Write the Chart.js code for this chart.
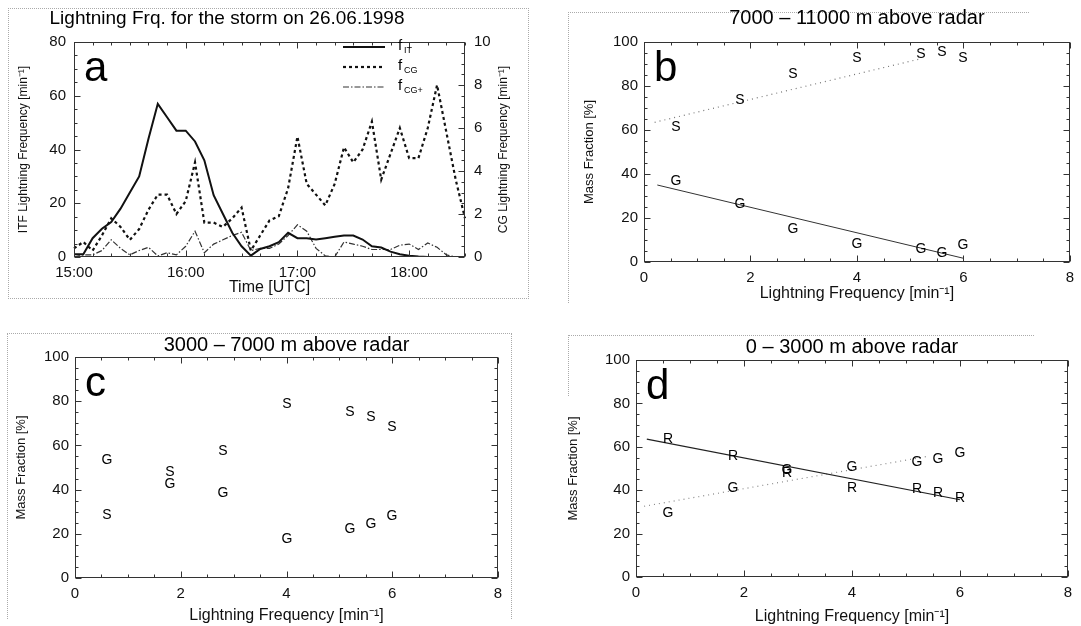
<!DOCTYPE html>
<html>
<head>
<meta charset="utf-8">
<script src="https://cdn.jsdelivr.net/npm/chart.js@4.4.0/dist/chart.umd.min.js"></script>
<style>
body { margin:0; background:#fff; width:1081px; height:626px; position:relative; overflow:hidden; font-family:"Liberation Sans", Arial, sans-serif; }
canvas { position:absolute; }
.box { position:absolute; border:0 dotted #aaa; }
</style>
</head>
<body>
<div class="box" style="left:8px;top:8px;width:519px;height:289px;border-width:1px"></div>
<div class="box" style="left:568px;top:12px;width:460px;height:290px;border-top-width:1px;border-left-width:1px"></div>
<div class="box" style="left:7px;top:333px;width:503px;height:285px;border-top-width:1px;border-left-width:1px;border-right-width:1px"></div>
<div class="box" style="left:568px;top:335px;width:465px;height:60px;border-top-width:1px;border-left-width:1px"></div>

<canvas id="ca" width="540" height="305" style="left:0;top:0"></canvas>
<canvas id="cb" width="541" height="305" style="left:540px;top:0"></canvas>
<canvas id="cc" width="540" height="316" style="left:0;top:310px"></canvas>
<canvas id="cd" width="541" height="316" style="left:540px;top:310px"></canvas>

<script>
// panel a: lightning frequency time series (5 min steps)
var times = ['15:00','15:05','15:10','15:15','15:20','15:25','15:30','15:35','15:40','15:45','15:50','15:55',
             '16:00','16:05','16:10','16:15','16:20','16:25','16:30','16:35','16:40','16:45','16:50','16:55',
             '17:00','17:05','17:10','17:15','17:20','17:25','17:30','17:35','17:40','17:45','17:50','17:55',
             '18:00','18:05','18:10','18:15','18:20','18:25','18:30'];
var fIT  = [1,1,7,10.5,13,18,24,30,44,57,52,47,47,43,36,23,16,9,4,0.5,3,4,5.5,9,
            7,7,6.5,7,7.5,8,8,6.5,4,3.5,2,1,0.5,0.2,0,0,0,0,null];
var fCG  = [0.4,0.7,0.3,1.0,1.8,1.4,0.8,1.3,2.2,2.9,2.9,2.0,2.6,4.4,1.6,1.6,1.4,1.8,2.3,0.3,1.0,1.7,1.9,3.2,
            5.6,3.4,2.9,2.4,3.4,5.1,4.4,5.0,6.3,3.6,4.8,6.0,4.6,4.6,6.0,8.0,5.8,3.6,1.8];
var fCGp = [0,0.1,0.1,0.3,0.8,0.4,0.1,0.3,0.45,0.05,0.2,0.1,0.5,1.2,0.2,0.6,0.8,1.0,1.15,0.3,0.4,0.4,0.6,1.0,
            1.5,1.2,0.4,0.05,0,0.7,0.6,0.5,0.35,0.35,0.35,0.55,0.6,0.35,0.65,0.45,0.1,0,null];

// panels b-d: mass fractions vs lightning frequency
var freq = [0.6, 1.8, 2.8, 4.0, 5.2, 5.6, 6.0];
var bS = [62, 74, 86, 93, 95, 96, 93];
var bG = [37.5, 27, 15.5, 8.5, 6.5, 4.5, 8];
var cS = [29, 48.5, 58, 79, 75.5, 73.5, 69];
var cG = [54, 43, 39, 18, 22.5, 25, 28.5];
var dR = [64, 56, 48.5, 41.5, 41, 39, 37];
var dG = [30, 41.5, 50, 51, 53.5, 55, 57.5];

// fitted lines (start / end)
var bSfitX = [0.2, 5.2], bSfitY = [63.5, 92.4];
var bGfitX = [0.25, 6.0], bGfitY = [35, 1.7];
var dRfitX = [0.2, 6.0], dRfitY = [63.5, 35.6];
var dGfitX = [0.15, 5.4], dGfitY = [32.6, 55.6];

var FONT = '"Liberation Sans", Arial, sans-serif';

function pts(xs, ys) {
  var out = [];
  for (var i = 0; i < xs.length; i++) out.push({x: xs[i], y: ys[i]});
  return out;
}

// letters S / G / R as point markers, placed at the points the scales computed
var letters = {
  id: 'letters',
  afterDatasetsDraw: function(chart) {
    var ctx = chart.ctx;
    ctx.save();
    ctx.font = '14px ' + FONT;
    ctx.fillStyle = '#000';
    ctx.textAlign = 'center';
    ctx.textBaseline = 'middle';
    chart.data.datasets.forEach(function(ds, i) {
      if (!ds.letter) return;
      chart.getDatasetMeta(i).data.forEach(function(el) {
        ctx.fillText(ds.letter, Math.round(el.x), Math.round(el.y) + 1);
      });
    });
    ctx.restore();
  }
};

// box round the plot with inward ticks
var frame = {
  id: 'frame',
  afterDraw: function(chart, args, o) {
    var ctx = chart.ctx, a = chart.chartArea;
    var L = Math.round(a.left) + 0.5, R = Math.round(a.right) - 0.5;
    var T = Math.round(a.top) + 0.5, B = Math.round(a.bottom) - 0.5;
    ctx.save();
    ctx.strokeStyle = '#333';
    ctx.lineWidth = 1;
    ctx.strokeRect(L, T, R - L, B - T);
    function seg(x1, y1, x2, y2) { ctx.beginPath(); ctx.moveTo(x1, y1); ctx.lineTo(x2, y2); ctx.stroke(); }
    var xs = chart.scales.x;
    for (var v = xs.min; v <= xs.max + 1e-9; v += o.xMinor) {
      var p = Math.round(xs.getPixelForValue(v)) + 0.5;
      var len = Math.abs(v / o.xMajor - Math.round(v / o.xMajor)) < 1e-6 ? 6 : 3;
      seg(p, B, p, B - len); seg(p, T, p, T + len);
    }
    function yTicks(sc, major, minor, left) {
      for (var v = sc.min; v <= sc.max + 1e-9; v += minor) {
        var p = Math.round(sc.getPixelForValue(v)) + 0.5;
        var len = Math.abs(v / major - Math.round(v / major)) < 1e-6 ? 6 : 3;
        if (left) seg(L, p, L + len, p); else seg(R, p, R - len, p);
      }
    }
    yTicks(chart.scales.y, o.yMajor, o.yMinor, true);
    if (chart.scales.y1) yTicks(chart.scales.y1, o.y1Major, o.y1Minor, false);
    else yTicks(chart.scales.y, o.yMajor, o.yMinor, false);
    ctx.restore();
  }
};

// title, panel letter, right axis title and (panel a) legend
var deco = {
  id: 'deco',
  afterDraw: function(chart, args, o) {
    var ctx = chart.ctx, a = chart.chartArea;
    ctx.save();
    ctx.fillStyle = '#000';
    ctx.font = o.titleSize + 'px ' + FONT;
    ctx.textAlign = 'center';
    ctx.textBaseline = 'middle';
    ctx.fillText(o.title, o.titleX != null ? o.titleX : (a.left + a.right) / 2, o.titleY);
    if (o.rightTitle) {
      ctx.save();
      ctx.translate(o.rightTitleX, (a.top + a.bottom) / 2);
      ctx.rotate(-Math.PI / 2);
      ctx.font = '12px ' + FONT;
      ctx.fillStyle = '#111';
      ctx.fillText(o.rightTitle, 0, 0);
      ctx.restore();
    }
    ctx.font = '42px ' + FONT;
    ctx.textAlign = 'left';
    ctx.textBaseline = 'alphabetic';
    ctx.fillText(o.letter, a.left + 10, a.top + 39);
    if (o.legend) {
      var ds = chart.data.datasets;
      o.legend.forEach(function(sub, i) {
        var y = a.top + 5 + i * 20;
        var x0 = a.right - 122;
        ctx.strokeStyle = ds[i].borderColor;
        ctx.lineWidth = ds[i].borderWidth;
        ctx.setLineDash(ds[i].borderDash || []);
        ctx.beginPath(); ctx.moveTo(x0, y); ctx.lineTo(x0 + 42, y); ctx.stroke();
        ctx.setLineDash([]);
        ctx.textBaseline = 'middle';
        ctx.font = '15px ' + FONT;
        ctx.fillText('f', x0 + 55, y - 1);
        ctx.font = '9px ' + FONT;
        ctx.fillText(sub, x0 + 61, y + 4);
      });
    }
    ctx.restore();
  }
};

function fixW(w) { return function(s) { s.width = w; }; }
function fixH(h) { return function(s) { s.height = h; }; }

function tickFont() { return {size: 15, family: FONT}; }

// ---- panel a ----
new Chart(document.getElementById('ca'), {
  type: 'line',
  data: {
    labels: times,
    datasets: [
      {label: 'fIT', data: fIT, yAxisID: 'y', borderColor: '#111', borderWidth: 2, pointRadius: 0, tension: 0},
      {label: 'fCG', data: fCG, yAxisID: 'y1', borderColor: '#111', borderWidth: 2.2, borderDash: [3, 3], pointRadius: 0, tension: 0},
      {label: 'fCG+', data: fCGp, yAxisID: 'y1', borderColor: '#333', borderWidth: 1.2, borderDash: [6, 2, 1.5, 2], pointRadius: 0, tension: 0}
    ]
  },
  options: {
    responsive: false, animation: false,
    layout: {padding: {top: 42, left: 0, right: 0, bottom: 8}},
    plugins: {
      legend: {display: false}, tooltip: {enabled: false},
      frame: {xMajor: 12, xMinor: 2, yMajor: 20, yMinor: 5, y1Major: 2, y1Minor: 0.5},
      deco: {title: 'Lightning Frq. for the storm on 26.06.1998', titleSize: 19, titleX: 227, titleY: 19,
             letter: 'a', legend: ['IT', 'CG', 'CG+'],
             rightTitle: 'CG Lightning Frequency [min⁻¹]', rightTitleX: 504}
    },
    scales: {
      x: {
        type: 'category', offset: false, afterFit: fixH(40),
        grid: {display: false, drawTicks: false}, border: {display: false},
        ticks: {autoSkip: false, maxRotation: 0, padding: 7, color: '#111', font: tickFont(),
                callback: function(v) { var l = this.getLabelForValue(v); return l.slice(3) === '00' ? l : ''; }},
        title: {display: true, text: 'Time [UTC]', color: '#111', font: {size: 16, family: FONT}, padding: 0}
      },
      y: {
        min: 0, max: 80, afterFit: fixW(74),
        grid: {display: false, drawTicks: false}, border: {display: false},
        ticks: {stepSize: 20, padding: 8, color: '#111', font: tickFont()},
        title: {display: true, text: 'ITF Lightning Frequency [min⁻¹]', color: '#111', font: {size: 12, family: FONT}, padding: {top: 16}}
      },
      y1: {
        position: 'right', min: 0, max: 10, afterFit: fixW(75),
        grid: {display: false, drawTicks: false}, border: {display: false},
        ticks: {stepSize: 2, padding: 9, color: '#111', font: tickFont()}
      }
    }
  },
  plugins: [frame, deco]
});

// ---- panels b-d ----
function massChart(id, o) {
  var datasets = [];
  o.fits.forEach(function(f) {
    datasets.push({type: 'line', data: pts(f.x, f.y), borderColor: f.color, borderWidth: f.width,
                   borderDash: f.dash, pointRadius: 0, showLine: true});
  });
  o.marks.forEach(function(m) {
    datasets.push({type: 'scatter', data: pts(freq, m.y), letter: m.ch, pointRadius: 0});
  });
  new Chart(document.getElementById(id), {
    type: 'scatter',
    data: {datasets: datasets},
    options: {
      responsive: false, animation: false,
      layout: {padding: {top: o.top, left: 0, right: o.right, bottom: o.bottom}},
      plugins: {
        legend: {display: false}, tooltip: {enabled: false},
        frame: {xMajor: 2, xMinor: 0.5, yMajor: 20, yMinor: 5},
        deco: {title: o.title, titleSize: 20, titleY: o.titleY, letter: o.letter}
      },
      scales: {
        x: {
          type: 'linear', min: 0, max: 8, afterFit: fixH(o.xh),
          grid: {display: false, drawTicks: false}, border: {display: false},
          ticks: {stepSize: 2, padding: 7, color: '#111', font: tickFont()},
          title: {display: true, text: 'Lightning Frequency [min⁻¹]', color: '#111', font: {size: 16, family: FONT}, padding: 0}
        },
        y: {
          min: 0, max: 100, afterFit: fixW(o.yw),
          grid: {display: false, drawTicks: false}, border: {display: false},
          ticks: {stepSize: 20, padding: 6, color: '#111', font: tickFont()},
          title: {display: true, text: 'Mass Fraction [%]', color: '#111', font: {size: 13, family: FONT}, padding: {top: o.ytp}}
        }
      }
    },
    plugins: [frame, letters, deco]
  });
}

massChart('cb', {
  title: '7000 – 11000 m above radar', titleY: 18, letter: 'b',
  top: 42, right: 9, bottom: 2, xh: 41, yw: 104, ytp: 42,
  fits: [
    {x: bSfitX, y: bSfitY, color: '#777', width: 1.2, dash: [1, 4]},
    {x: bGfitX, y: bGfitY, color: '#333', width: 1, dash: []}
  ],
  marks: [{ch: 'S', y: bS}, {ch: 'G', y: bG}]
});

massChart('cc', {
  title: '3000 – 7000 m above radar', titleY: 35, letter: 'c',
  top: 47, right: 42, bottom: 1, xh: 47, yw: 75, ytp: 14,
  fits: [],
  marks: [{ch: 'S', y: cS}, {ch: 'G', y: cG}]
});

massChart('cd', {
  title: '0 – 3000 m above radar', titleY: 37, letter: 'd',
  top: 50, right: 13, bottom: 0, xh: 49, yw: 96, ytp: 26,
  fits: [
    {x: dRfitX, y: dRfitY, color: '#222', width: 1.2, dash: []},
    {x: dGfitX, y: dGfitY, color: '#888', width: 1.2, dash: [1, 4]}
  ],
  marks: [{ch: 'R', y: dR}, {ch: 'G', y: dG}]
});
</script>
</body>
</html>
